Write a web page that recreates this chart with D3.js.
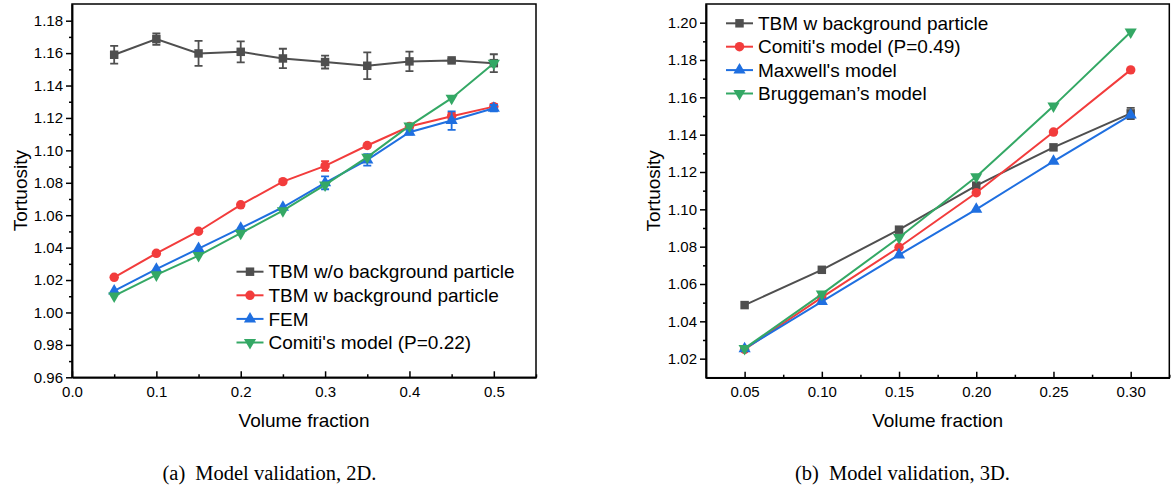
<!DOCTYPE html>
<html>
<head>
<meta charset="utf-8">
<script src="https://cdn.jsdelivr.net/npm/d3@7"></script>
<style>
  body { margin: 0; background: #fff; }
  svg { display: block; font-family: "Liberation Sans", Arial, sans-serif; }
  .tick text { font-size: 15px; fill: #000; }
  .axis path, .axis line { stroke: #000; stroke-width: 1.5px; }
</style>
</head>
<body>
<svg id="chart" width="1175" height="494"></svg>
<script>
// ---- data: (a) 2D validation ----
var xs2d = [0.05, 0.10, 0.15, 0.20, 0.25, 0.30, 0.35, 0.40, 0.45, 0.50];
var tbmNoBg2d = [1.159, 1.1686, 1.1598, 1.1608, 1.1567, 1.1545, 1.1522, 1.1549, 1.1555, 1.1538];
var tbmNoBgErr2d = [0.0055, 0.0035, 0.0077, 0.0065, 0.006, 0.004, 0.0083, 0.006, 0.001, 0.0055];
var tbmBg2d = [1.0217, 1.0365, 1.0501, 1.0664, 1.0807, 1.0904, 1.103, 1.1147, 1.1211, 1.127];
var tbmBgErr2d = [0, 0, 0, 0, 0, 0.003, 0, 0, 0.002, 0.0015];
var fem2d = [1.0133, 1.0267, 1.0394, 1.052, 1.0649, 1.080, 1.0941, 1.1112, 1.1184, 1.126];
var femErr2d = [0, 0, 0, 0, 0, 0.004, 0.0035, 0.0015, 0.0057, 0.002];
var comiti2d = [1.0102, 1.0232, 1.0351, 1.0489, 1.0628, 1.0787, 1.0958, 1.1151, 1.1322, 1.1538];
var names2d = ["TBM w/o background particle", "TBM w background particle", "FEM", "Comiti's model (P=0.22)"];
var xTicks2d = [0.0, 0.1, 0.2, 0.3, 0.4, 0.5];
var yTicks2d = [0.96, 0.98, 1.00, 1.02, 1.04, 1.06, 1.08, 1.10, 1.12, 1.14, 1.16, 1.18];

// ---- data: (b) 3D validation ----
var xs3d = [0.05, 0.10, 0.15, 0.20, 0.25, 0.30];
var tbmBg3d = [1.0487, 1.0676, 1.0891, 1.1127, 1.1332, 1.1514];
var tbmBgErr3d = [0, 0, 0, 0, 0, 0.003];
var comiti3d = [1.025, 1.0528, 1.0797, 1.1089, 1.1414, 1.1747];
var maxwell3d = [1.0253, 1.0506, 1.0756, 1.1000, 1.1257, 1.1505];
var brugg3d = [1.0255, 1.0546, 1.0849, 1.1175, 1.1553, 1.195];
var names3d = ["TBM w background particle", "Comiti's model (P=0.49)", "Maxwell's model", "Bruggeman\u2019s model"];
var xTicks3d = [0.05, 0.10, 0.15, 0.20, 0.25, 0.30];
var yTicks3d = [1.02, 1.04, 1.06, 1.08, 1.10, 1.12, 1.14, 1.16, 1.18, 1.20];

var colors = ["#4f4f4f", "#f23c3c", "#1f6fe0", "#34a865"];
var shapes = ["square", "circle", "up", "down"];

var svg = d3.select("#chart");

function marker(g, shape, color, cx, cy) {
    var sym;
    if (shape === "square") sym = d3.symbol().type(d3.symbolSquare).size(72);
    else if (shape === "circle") sym = d3.symbol().type(d3.symbolCircle).size(70);
    else sym = d3.symbol().type(d3.symbolTriangle).size(64);
    g.append("path")
        .attr("d", sym())
        .attr("fill", color)
        .attr("transform", "translate(" + cx + "," + cy + ")" + (shape === "down" ? " rotate(180)" : ""));
}

function drawPanel(opt) {
    var x = d3.scaleLinear().domain(opt.xDomain).range([opt.left, opt.right]);
    var y = d3.scaleLinear().domain(opt.yDomain).range([opt.bottom, opt.top]);

    // minor ticks halfway between the labelled ones
    var xMinor = [], yMinor = [];
    for (var i = 0; i < opt.xTicks.length - 1; i++) xMinor.push((opt.xTicks[i] + opt.xTicks[i + 1]) / 2);
    xMinor.push(opt.xTicks[opt.xTicks.length - 1] + (opt.xTicks[1] - opt.xTicks[0]) / 2);
    for (var j = 0; j < opt.yTicks.length - 1; j++) yMinor.push((opt.yTicks[j] + opt.yTicks[j + 1]) / 2);
    yMinor = yMinor.filter(function(v) { return v <= opt.yDomain[1]; });
    xMinor = xMinor.filter(function(v) { return v <= opt.xDomain[1]; });

    svg.append("g")
        .attr("class", "axis")
        .attr("transform", "translate(0," + opt.bottom + ")")
        .call(d3.axisBottom(x).tickValues(xMinor).tickSizeInner(-3).tickSizeOuter(0).tickFormat(""));
    svg.append("g")
        .attr("class", "axis")
        .attr("transform", "translate(0," + opt.bottom + ")")
        .call(d3.axisBottom(x).tickValues(opt.xTicks).tickSizeInner(-6).tickSizeOuter(0)
            .tickPadding(9).tickFormat(d3.format(opt.xFmt)));
    svg.append("g")
        .attr("class", "axis")
        .attr("transform", "translate(" + opt.left + ",0)")
        .call(d3.axisLeft(y).tickValues(yMinor).tickSizeInner(3).tickSizeOuter(0).tickFormat(""));
    svg.append("g")
        .attr("class", "axis")
        .attr("transform", "translate(" + opt.left + ",0)")
        .call(d3.axisLeft(y).tickValues(opt.yTicks).tickSizeInner(6).tickSizeOuter(0)
            .tickPadding(3).tickFormat(d3.format(".2f")));

    // frame
    svg.append("rect")
        .attr("x", opt.left).attr("y", opt.top)
        .attr("width", opt.right - opt.left).attr("height", opt.bottom - opt.top)
        .attr("fill", "none").attr("stroke", "#000").attr("stroke-width", 1.5);

    var line = d3.line()
        .x(function(d) { return x(d[0]); })
        .y(function(d) { return y(d[1]); });

    opt.series.forEach(function(s, k) {
        var pts = opt.xs.map(function(v, i) { return [v, s.values[i], s.err ? s.err[i] : 0]; });
        var g = svg.append("g");
        g.append("path")
            .datum(pts)
            .attr("d", line)
            .attr("fill", "none")
            .attr("stroke", colors[k])
            .attr("stroke-width", 2);
        pts.forEach(function(p) {
            if (p[2] > 0) {
                var cx = x(p[0]), y1 = y(p[1] + p[2]), y2 = y(p[1] - p[2]);
                g.append("path")
                    .attr("d", "M" + cx + "," + y1 + "V" + y2 + "M" + (cx - 4) + "," + y1 + "H" + (cx + 4) +
                        "M" + (cx - 4) + "," + y2 + "H" + (cx + 4))
                    .attr("stroke", colors[k])
                    .attr("stroke-width", 1.8)
                    .attr("fill", "none");
            }
            marker(g, shapes[k], colors[k], x(p[0]), y(p[1]));
        });
    });

    // legend
    opt.names.forEach(function(name, k) {
        var ly = opt.legY + k * opt.legStep;
        svg.append("line")
            .attr("x1", opt.legX).attr("x2", opt.legX + 27)
            .attr("y1", ly).attr("y2", ly)
            .attr("stroke", colors[k]).attr("stroke-width", 2);
        marker(svg, shapes[k], colors[k], opt.legX + 13.5, ly);
        svg.append("text")
            .attr("x", opt.legX + 32)
            .attr("y", ly)
            .attr("dy", "0.35em")
            .style("font-size", "19px")
            .text(name);
    });

    // axis titles
    svg.append("text")
        .attr("x", (opt.left + opt.right) / 2)
        .attr("y", 427)
        .attr("text-anchor", "middle")
        .style("font-size", "19px")
        .text("Volume fraction");

    svg.append("text")
        .attr("text-anchor", "middle")
        .style("font-size", "19px")
        .attr("transform", "translate(" + opt.yTitleX + "," + ((opt.top + opt.bottom) / 2) + ")rotate(-90)")
        .text("Tortuosity");

    // caption
    var cap = svg.append("text")
        .attr("x", opt.capX)
        .attr("y", 480)
        .style("font-family", "'Liberation Serif', 'Times New Roman', serif")
        .style("font-size", "20.5px");
    cap.append("tspan").text(opt.capTag);
    cap.append("tspan").attr("dx", 10).text(opt.capText);
}

drawPanel({
    left: 72, right: 536, top: 4, bottom: 377.3,
    xDomain: [0, 0.55], yDomain: [0.96, 1.1903],
    xTicks: xTicks2d, yTicks: yTicks2d, xFmt: ".1f",
    xs: xs2d,
    series: [
        {values: tbmNoBg2d, err: tbmNoBgErr2d},
        {values: tbmBg2d, err: tbmBgErr2d},
        {values: fem2d, err: femErr2d},
        {values: comiti2d}
    ],
    names: names2d,
    legX: 236.5, legY: 271.7, legStep: 23.6,
    yTitleX: 26.5,
    capX: 162.5, capTag: "(a)", capText: "Model validation, 2D."
});

drawPanel({
    left: 706, right: 1169.3, top: 4, bottom: 377.7,
    xDomain: [0.025, 0.325], yDomain: [1.0098, 1.21],
    xTicks: xTicks3d, yTicks: yTicks3d, xFmt: ".2f",
    xs: xs3d,
    series: [
        {values: tbmBg3d, err: tbmBgErr3d},
        {values: comiti3d},
        {values: maxwell3d},
        {values: brugg3d}
    ],
    names: names3d,
    legX: 726, legY: 23.3, legStep: 23.4,
    yTitleX: 660,
    capX: 795, capTag: "(b)", capText: "Model validation, 3D."
});
</script>
</body>
</html>
